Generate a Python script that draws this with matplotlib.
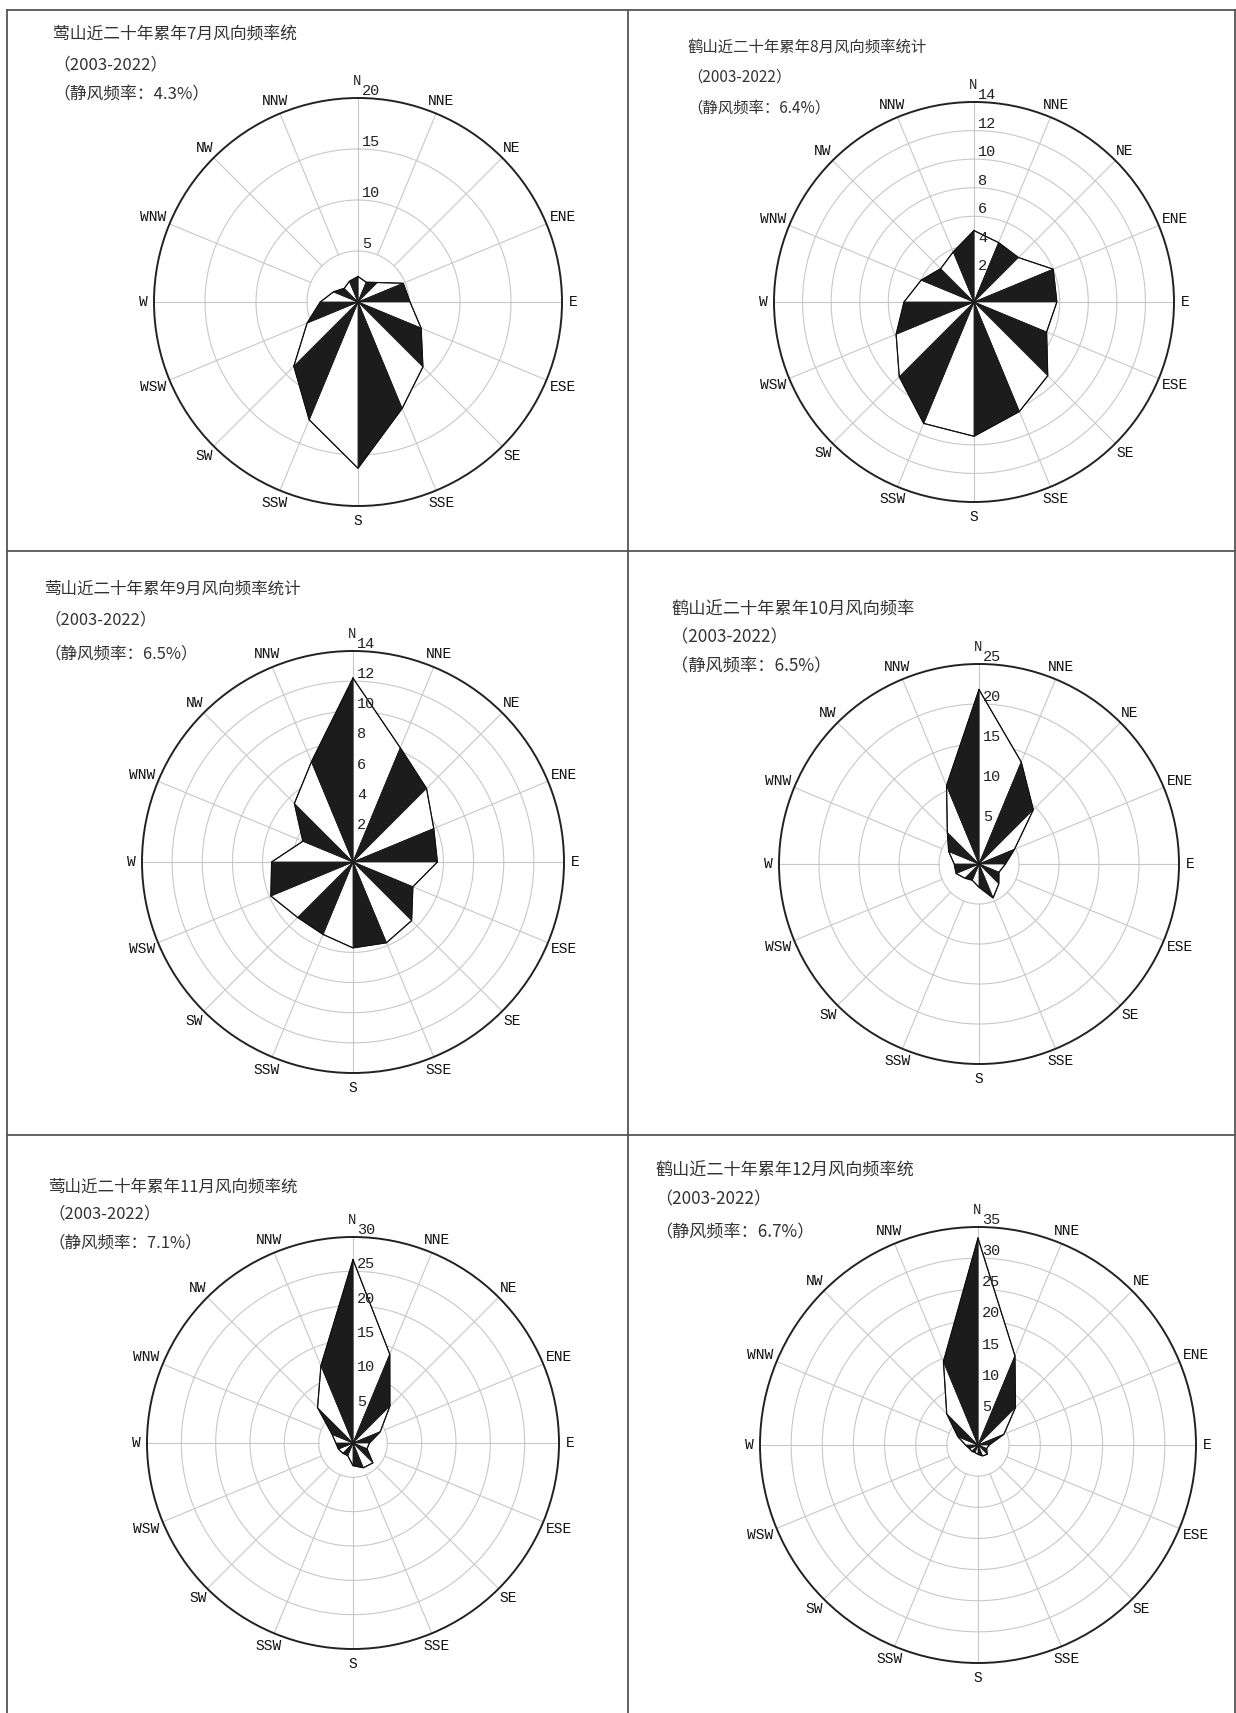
import numpy as np
import matplotlib.pyplot as plt
from matplotlib.lines import Line2D

plt.rcParams['font.family'] = ['Noto Sans CJK SC', 'DejaVu Sans']

W, H = 1236, 1713

# 16 个方位 (顺时针, 从 N 开始)
dirs = ['N', 'NNE', 'NE', 'ENE', 'E', 'ESE', 'SE', 'SSE',
        'S', 'SSW', 'SW', 'WSW', 'W', 'WNW', 'NW', 'NNW']

# 各月风向频率 (%)
jul = [2.5, 2.1, 2.7, 4.8, 5.1, 6.7, 9.0, 11.3, 16.3, 12.5, 8.9, 5.4, 3.7, 2.6, 1.9, 2.2]
aug = [5.0, 4.5, 4.4, 6.0, 5.8, 5.5, 7.3, 8.3, 9.4, 9.2, 7.4, 5.9, 4.9, 4.0, 3.3, 3.8]
sep = [12.2, 8.2, 6.9, 5.8, 5.6, 4.3, 5.5, 5.8, 5.7, 5.2, 5.2, 5.9, 5.4, 3.6, 5.5, 7.2]
octo = [21.8, 13.8, 9.6, 4.8, 3.3, 2.7, 3.5, 4.6, 2.9, 2.2, 2.5, 3.1, 3.1, 4.1, 5.6, 10.6]
nov = [26.7, 14.0, 7.6, 4.3, 2.4, 2.2, 4.1, 3.9, 3.3, 2.0, 2.1, 2.3, 2.5, 3.3, 7.3, 12.2]
dec = [33.2, 15.5, 8.5, 4.5, 1.8, 1.5, 2.1, 1.9, 1.5, 1.3, 1.4, 1.5, 2.0, 3.5, 7.1, 14.5]
months = [jul, aug, sep, octo, nov, dec]

titles = ['莺山近二十年累年7月风向频率统',
          '鹤山近二十年累年8月风向频率统计',
          '莺山近二十年累年9月风向频率统计',
          '鹤山近二十年累年10月风向频率',
          '莺山近二十年累年11月风向频率统',
          '鹤山近二十年累年12月风向频率统']
years = '（2003-2022）'
calm = ['4.3%', '6.4%', '6.5%', '6.5%', '7.1%', '6.7%']

# 坐标轴范围
rmax = [20, 14, 14, 25, 30, 35]
rstep = [5, 2, 2, 5, 5, 5]

# 版面 (像素)
centers = [(358, 302), (974, 302), (353, 862), (979, 864), (353, 1443), (978, 1445)]
radius = [204, 200, 211, 200, 206, 218]
text_x = [53, 687, 45, 671, 49, 655]
text_y = [(35, 65, 95), (47, 77, 108), (589, 620, 654),
          (610, 637, 666), (1187, 1214, 1243), (1171, 1199, 1232)]
text_size = [12.1, 11.1, 11.9, 12.4, 11.9, 12.3]

fig = plt.figure(figsize=(W / 100, H / 100), dpi=100)
fig.patch.set_facecolor('white')


def fx(x):
    return x / W


def fy(y):
    return 1 - y / H


def hline(y, x0, x1):
    fig.add_artist(Line2D([fx(x0), fx(x1)], [fy(y), fy(y)], color='#555555', lw=1.3))


def vline(x, y0, y1):
    fig.add_artist(Line2D([fx(x), fx(x)], [fy(y0), fy(y1)], color='#555555', lw=1.3))


# 表格边框
hline(10, 7, 1235)
hline(551, 7, 1235)
hline(1135, 7, 1235)
vline(7, 10, 1713)
vline(628, 10, 1713)
vline(1235, 10, 1713)

theta = np.deg2rad(np.arange(16) * 22.5)
tt = np.linspace(0, 2 * np.pi, 361)
mono = 'Liberation Mono'

for k in range(6):
    cx, cy = centers[k]
    R = radius[k]
    vals = np.asarray(months[k])
    rm = rmax[k]
    st = rstep[k]

    ax = fig.add_axes([fx(cx - R), fy(cy + R), 2 * R / W, 2 * R / H], projection='polar')
    ax.set_theta_zero_location('N')
    ax.set_theta_direction(-1)
    ax.set_ylim(0, rm)
    ax.grid(False)
    ax.set_xticks([])
    ax.set_yticks([])
    ax.spines['polar'].set_linewidth(1.4)
    ax.spines['polar'].set_color('#222222')

    # 网格
    for r in np.arange(st, rm, st):
        ax.plot(tt, np.full_like(tt, r), color='#c8c8c8', lw=0.8, zorder=1)
    for i, th in enumerate(theta):
        r0 = 0 if i == 0 else st
        ax.plot([th, th], [r0, rm], color='#c8c8c8', lw=0.8, zorder=1)

    # 风向玫瑰 (黑白相间三角形)
    for i in range(16):
        j = (i + 1) % 16
        fc = 'white' if i % 2 == 0 else '#1c1c1c'
        ax.fill([0, theta[i], theta[j]], [0, vals[i], vals[j]],
                facecolor=fc, edgecolor='#1c1c1c', lw=0.6, zorder=3)
    ax.plot(np.append(theta, theta[0]), np.append(vals, vals[0]),
            color='#111111', lw=0.9, zorder=4)

    # 刻度
    for r in np.arange(st, rm, st):
        ax.annotate(str(r), xy=(0, r), xytext=(4, 0), textcoords='offset pixels',
                    ha='left', va='bottom', fontsize=11, family=mono,
                    color='#222222', zorder=6)
    ax.annotate(str(rm), xy=(0, rm), xytext=(13, 7), textcoords='offset pixels',
                ha='center', va='center', fontsize=11, family=mono,
                color='#222222', annotation_clip=False)
    ax.annotate('N', xy=(0, rm), xytext=(-1, 17), textcoords='offset pixels',
                ha='center', va='center', fontsize=10, family=mono,
                color='#222222', annotation_clip=False)

    # 方位标注
    for i in range(1, 16):
        lbl = dirs[i]
        extra = 11 + (len(lbl) - 1) * 3.5 * abs(np.sin(theta[i]))
        if lbl == 'S':
            extra += 4
        ax.text(theta[i], rm * (R + extra) / R, lbl, ha='center', va='center',
                fontsize=10.5, family=mono, color='#111111')

    # 标题
    tx = fx(text_x[k])
    ys = text_y[k]
    fs = text_size[k]
    fig.text(tx, fy(ys[0]), titles[k], ha='left', va='center', fontsize=fs, color='#333333')
    fig.text(tx, fy(ys[1]), years, ha='left', va='center', fontsize=fs, color='#333333')
    fig.text(tx, fy(ys[2]), '（静风频率：' + calm[k] + '）', ha='left', va='center',
             fontsize=fs, color='#333333')

fig.savefig('out.png', dpi=100, facecolor='white')
